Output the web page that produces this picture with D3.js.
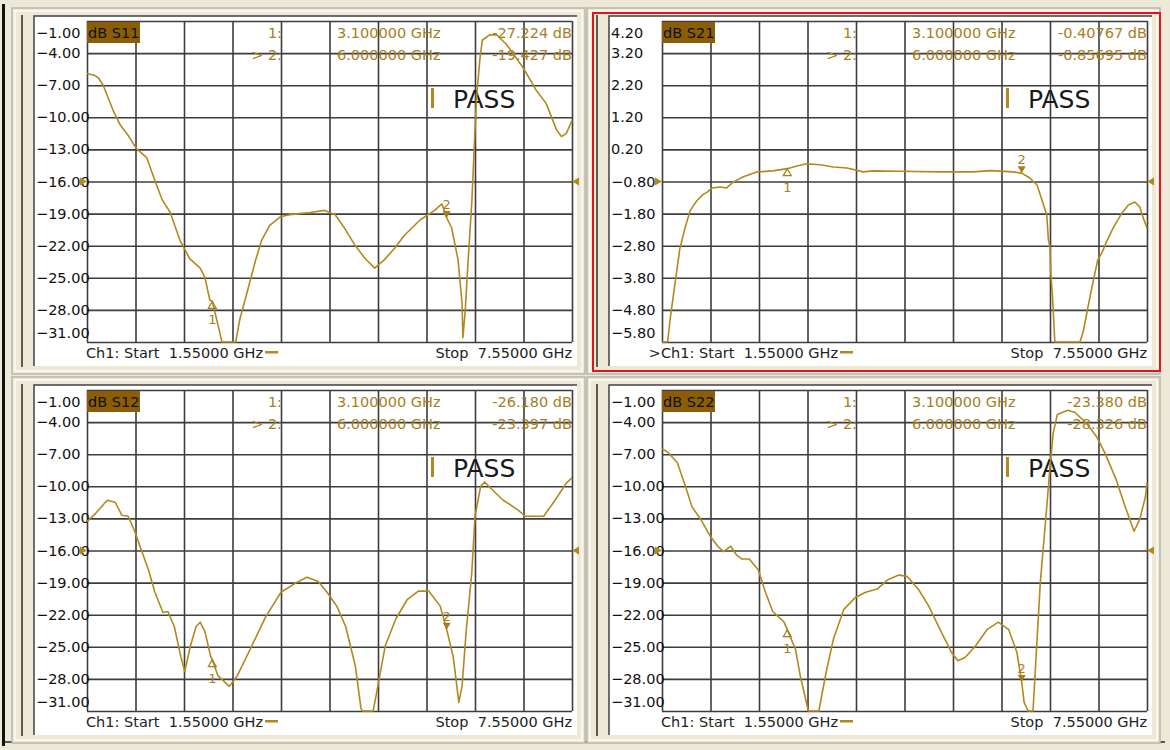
<!DOCTYPE html>
<html>
<head>
<meta charset="utf-8">
<script src="https://cdn.jsdelivr.net/npm/d3@7"></script>
<style>
  body { margin: 0; background: #ece9d8; }
  svg text { font-family: "DejaVu Sans", sans-serif; white-space: pre; }
</style>
</head>
<body>
<div id="vna"></div>
<script>
// sweep settings
const freqStart = 1.55, freqStop = 7.55;
const markerFreqs = [3.1, 6.0];
const markerFreqLabels = ["3.100000 GHz", "6.000000 GHz"];

// scale labels (top to bottom)
const dbTicks = [-1, -4, -7, -10, -13, -16, -19, -22, -25, -28, -31];
const s21Ticks = [4.2, 3.2, 2.2, 1.2, 0.2, -0.8, -1.8, -2.8, -3.8, -4.8, -5.8];

// traces (GHz / dB)
const s11Freq = [1.55, 1.65, 1.69, 1.75, 1.87, 1.96, 2.06, 2.16, 2.29, 2.39,
  2.48, 2.58, 2.70, 2.82, 2.95, 3.01, 3.07, 3.10, 3.17, 3.22,
  3.39, 3.44, 3.54, 3.63, 3.71, 3.81, 3.94, 4.06, 4.18, 4.31,
  4.49, 4.62, 4.74, 4.86, 4.99, 5.11, 5.23, 5.36, 5.48, 5.67,
  5.85, 5.94, 6.00, 6.06, 6.14, 6.19, 6.20, 6.23, 6.26, 6.31,
  6.35, 6.37, 6.41, 6.44, 6.53, 6.62, 6.74, 6.94, 7.11, 7.23,
  7.36, 7.42, 7.48, 7.55];
const s11Db = [-5.9, -6.1, -6.3, -7.0, -9.3, -10.7, -11.7, -12.9, -13.8, -15.9,
  -17.7, -18.9, -21.5, -23.2, -24.1, -25.0, -27.1, -27.2, -29.4, -32,
  -32, -28.9, -26.1, -23.5, -21.5, -20.1, -19.3, -19.1, -19.0, -18.9,
  -18.7, -19.1, -20.4, -21.9, -23.2, -24.1, -23.3, -22.2, -21.0, -19.6,
  -18.7, -18.1, -19.4, -20.3, -23.3, -27.4, -30.6, -28.0, -24.0, -18.0,
  -11.2, -8.1, -4.6, -2.8, -2.3, -2.3, -3.2, -5.3, -7.5, -8.7,
  -11.2, -11.8, -11.5, -10.3];

const s21Freq = [1.55, 1.62, 1.65, 1.71, 1.77, 1.84, 1.90, 1.98, 2.06, 2.11,
  2.17, 2.27, 2.35, 2.43, 2.55, 2.73, 2.92, 3.10, 3.22, 3.34,
  3.51, 3.67, 3.84, 4.04, 4.16, 4.49, 4.99, 5.40, 5.61, 5.89,
  6.00, 6.10, 6.19, 6.25, 6.31, 6.33, 6.35, 6.36, 6.38, 6.41,
  6.72, 6.76, 6.82, 6.88, 6.94, 6.99, 7.06, 7.13, 7.24, 7.32,
  7.40, 7.46, 7.50, 7.55];
const s21Db = [-7.0, -6.2, -5.1, -4.0, -2.9, -2.2, -1.7, -1.4, -1.2, -1.13,
  -1.0, -0.97, -1.0, -0.82, -0.66, -0.50, -0.47, -0.40, -0.32, -0.25,
  -0.28, -0.35, -0.38, -0.50, -0.47, -0.48, -0.50, -0.50, -0.46, -0.50,
  -0.54, -0.69, -0.91, -1.38, -1.84, -2.62, -2.84, -3.65, -4.34, -6.2,
  -6.2, -5.49, -4.71, -3.96, -3.25, -3.03, -2.62, -2.25, -1.78, -1.53,
  -1.44, -1.59, -1.91, -2.25];

const s12Freq = [1.55, 1.66, 1.80, 1.90, 1.98, 2.06, 2.14, 2.22, 2.31, 2.39,
  2.49, 2.55, 2.63, 2.71, 2.76, 2.83, 2.90, 2.95, 3.01, 3.08,
  3.10, 3.17, 3.31, 3.41, 3.59, 3.76, 3.95, 4.14, 4.27, 4.41,
  4.52, 4.64, 4.75, 4.87, 4.94, 4.96, 5.09, 5.14, 5.24, 5.37,
  5.51, 5.65, 5.78, 5.92, 6.00, 6.08, 6.15, 6.19, 6.24, 6.31,
  6.35, 6.42, 6.47, 6.56, 6.70, 6.88, 6.97, 7.20, 7.34, 7.48,
  7.55];
const s12Db = [-13.3, -12.5, -11.3, -11.5, -12.7, -12.8, -14.2, -15.9, -17.8, -19.9,
  -21.8, -21.7, -23.1, -25.9, -27.3, -24.9, -23.1, -22.7, -23.6, -25.9,
  -26.2, -27.7, -28.7, -27.7, -24.9, -22.2, -19.9, -19.0, -18.5, -18.9,
  -19.9, -21.2, -23.1, -26.8, -30.8, -32, -32, -29.0, -24.9, -22.4,
  -20.6, -19.8, -19.8, -21.2, -23.4, -25.9, -30.2, -28.7, -23.6, -18.1,
  -12.8, -10.0, -9.6, -10.3, -11.3, -12.2, -12.8, -12.8, -11.3, -9.7,
  -9.2];

const s22Freq = [1.55, 1.62, 1.74, 1.84, 1.92, 2.03, 2.15, 2.24, 2.31, 2.40,
  2.47, 2.54, 2.63, 2.74, 2.83, 2.92, 3.06, 3.10, 3.20, 3.26,
  3.36, 3.49, 3.58, 3.67, 3.80, 3.94, 4.07, 4.21, 4.35, 4.48,
  4.58, 4.72, 4.85, 4.99, 5.13, 5.21, 5.30, 5.43, 5.57, 5.71,
  5.84, 5.94, 6.00, 6.03, 6.08, 6.14, 6.16, 6.23, 6.30, 6.35,
  6.39, 6.44, 6.57, 6.66, 6.80, 6.93, 7.03, 7.17, 7.28, 7.39,
  7.46, 7.53, 7.55];
const s22Db = [-6.5, -6.8, -7.8, -10.0, -11.9, -13.1, -14.7, -15.6, -16.1, -15.6,
  -16.4, -16.8, -16.8, -17.8, -19.9, -21.7, -22.7, -23.4, -25.2, -27.7,
  -32, -32, -27.4, -24.3, -21.5, -20.4, -19.9, -19.6, -18.7, -18.3,
  -18.4, -19.6, -21.2, -23.4, -25.5, -26.3, -26.0, -24.9, -23.4, -22.7,
  -23.4, -25.5, -28.3, -30.2, -32, -32, -28.3, -19.0, -12.8, -8.2,
  -5.0, -3.3, -2.9, -3.1, -4.1, -5.4, -6.9, -9.4, -11.9, -14.2,
  -13.1, -11.0, -9.7];

// marker readouts
const s11Readout = ["-27.224 dB", "-19.427 dB"];
const s21Readout = ["-0.40767 dB", "-0.85695 dB"];
const s12Readout = ["-26.180 dB", "-23.397 dB"];
const s22Readout = ["-23.380 dB", "-28.326 dB"];

const panels = [
  { name: "dB S11", freq: s11Freq, db: s11Db, ticks: dbTicks, ref: -16, readout: s11Readout, ox: 34, oy: 16, active: false },
  { name: "dB S21", freq: s21Freq, db: s21Db, ticks: s21Ticks, ref: -0.8, readout: s21Readout, ox: 609, oy: 16, active: true },
  { name: "dB S12", freq: s12Freq, db: s12Db, ticks: dbTicks, ref: -16, readout: s12Readout, ox: 34, oy: 385, active: false },
  { name: "dB S22", freq: s22Freq, db: s22Db, ticks: dbTicks, ref: -16, readout: s22Readout, ox: 609, oy: 385, active: false }
];

const W = 1170, H = 750;
const panelW = 543, panelH = 350;
const gold = "#b3891f", goldText = "#a67e1c", gridCol = "#3d3d3d";

const svg = d3.select("#vna").append("svg")
    .attr("width", W)
    .attr("height", H)
    .attr("viewBox", `0 0 ${W} ${H}`);

svg.append("rect").attr("width", W).attr("height", H).attr("fill", "#ece9d8");
// left window edge
svg.append("rect").attr("x", 2).attr("y", 4).attr("width", 3).attr("height", 742).attr("fill", "#111");
// bottom window edge
svg.append("rect").attr("x", 5).attr("y", 741).attr("width", 1160).attr("height", 2).attr("fill", "#555");

function valueAt(freqs, dbs, f) {
  const i = d3.bisectLeft(freqs, f);
  if (freqs[i] === f) return dbs[i];
  const t = (f - freqs[i - 1]) / (freqs[i] - freqs[i - 1]);
  return dbs[i - 1] + t * (dbs[i] - dbs[i - 1]);
}

panels.forEach(p => {
  const g = svg.append("g");
  const ox = p.ox, oy = p.oy;

  // window frame
  g.append("rect")
    .attr("x", ox - 22).attr("y", oy - 8)
    .attr("width", panelW + 30).attr("height", panelH + 16)
    .attr("fill", "#ece9d8").attr("stroke", "#b9b6a8").attr("stroke-width", 1.5);
  g.append("rect")
    .attr("x", ox - 19).attr("y", oy - 5)
    .attr("width", panelW + 24).attr("height", panelH + 10)
    .attr("fill", "none").attr("stroke", "#fbfaf5").attr("stroke-width", 1.5);
  g.append("line")
    .attr("x1", ox - 12).attr("x2", ox - 12)
    .attr("y1", oy - 1).attr("y2", oy + panelH + 1)
    .attr("stroke", "#5d5b52").attr("stroke-width", 2);
  g.append("rect")
    .attr("x", ox).attr("y", oy)
    .attr("width", panelW).attr("height", panelH)
    .attr("fill", "#fff");
  g.append("path")
    .attr("d", `M${ox},${oy + panelH}V${oy}H${ox + panelW}`)
    .attr("fill", "none").attr("stroke", "#404040").attr("stroke-width", 1.5);

  if (p.active) {
    g.append("rect")
      .attr("x", ox - 16).attr("y", oy - 3)
      .attr("width", panelW + 24).attr("height", panelH + 8)
      .attr("fill", "none").attr("stroke", "#e4141b").attr("stroke-width", 2);
  }

  const gx = ox + 53, gy = oy + 5, gw = 485, gh = 321;
  const x = d3.scaleLinear().domain([freqStart, freqStop]).range([gx, gx + gw]);
  const y = d3.scaleLinear()
    .domain([p.ticks[p.ticks.length - 1], p.ticks[0]])
    .range([gy + gh, gy])
    .clamp(true);

  // graticule
  const step = (freqStop - freqStart) / 10;
  g.append("g")
    .attr("transform", `translate(0,${gy + gh})`)
    .call(d3.axisBottom(x).tickValues(d3.range(11).map(i => freqStart + i * step)).tickSize(gh).tickSizeOuter(0).tickFormat(""))
    .call(a => a.select(".domain").remove())
    .call(a => a.selectAll("line").attr("y2", -gh).attr("stroke", gridCol).attr("stroke-width", 1.6));
  g.append("g")
    .attr("transform", `translate(${gx},0)`)
    .call(d3.axisLeft(y).tickValues(p.ticks).tickSize(-gw).tickFormat(""))
    .call(a => a.select(".domain").remove())
    .call(a => a.selectAll("line").attr("stroke", gridCol).attr("stroke-width", 1.6));

  // scale labels
  const fmt = d3.format(".2f");
  g.selectAll(".ylab")
    .data(p.ticks)
    .join("text")
      .attr("x", ox + 2)
      .attr("y", d => Math.max(gy + 17, Math.min(gy + gh - 4, y(d) + 5)))
      .attr("font-size", 14.5)
      .attr("fill", "#111")
      .text(d => fmt(d));

  // trace name box
  g.append("rect")
    .attr("x", gx).attr("y", gy + 1)
    .attr("width", 53).attr("height", 21)
    .attr("fill", "#8c5d07");
  g.append("text")
    .attr("x", gx + 1).attr("y", gy + 17)
    .attr("font-size", 14.5).attr("fill", "#111")
    .text(p.name);

  // marker table
  markerFreqs.forEach((f, i) => {
    const ty = gy + 17 + i * 22;
    g.append("text").attr("x", ox + 248).attr("y", ty).attr("text-anchor", "end")
      .attr("font-size", 14.5).attr("fill", goldText)
      .text(i === 1 ? "> 2:" : "1:");
    g.append("text").attr("x", ox + 303).attr("y", ty)
      .attr("font-size", 14.5).attr("fill", goldText)
      .text(markerFreqLabels[i]);
    g.append("text").attr("x", gx + gw).attr("y", ty).attr("text-anchor", "end")
      .attr("font-size", 14.5).attr("fill", goldText)
      .text(p.readout[i]);
  });

  // limit test status
  g.append("rect")
    .attr("x", gx + 344).attr("y", gy + 67)
    .attr("width", 3).attr("height", 20)
    .attr("fill", gold);
  g.append("text")
    .attr("x", gx + 366).attr("y", gy + 87)
    .attr("font-family", "'Liberation Sans', Arial, sans-serif")
    .attr("font-size", 25).attr("fill", "#1a1a1a")
    .text("PASS");

  // trace
  const line = d3.line().x(d => x(d[0])).y(d => y(d[1]));
  g.append("path")
    .datum(d3.zip(p.freq, p.db))
    .attr("d", line)
    .attr("fill", "none")
    .attr("stroke", gold)
    .attr("stroke-width", 1.6)
    .attr("stroke-linejoin", "round");

  // reference level arrows
  const ry = y(p.ref);
  g.append("path")
    .attr("d", `M${gx - 7},${ry - 4}L${gx},${ry}L${gx - 7},${ry + 4}Z`)
    .attr("fill", gold);
  g.append("path")
    .attr("d", `M${gx + gw + 7},${ry - 4}L${gx + gw},${ry}L${gx + gw + 7},${ry + 4}Z`)
    .attr("fill", gold);

  // markers
  markerFreqs.forEach((f, i) => {
    const mx = x(f), my = y(valueAt(p.freq, p.db, f));
    if (i === 0) {
      g.append("path")
        .attr("d", `M${mx},${my}L${mx - 4},${my + 7}L${mx + 4},${my + 7}Z`)
        .attr("fill", "none").attr("stroke", goldText).attr("stroke-width", 1.2);
      g.append("text").attr("x", mx).attr("y", my + 23).attr("text-anchor", "middle")
        .attr("font-size", 13).attr("fill", goldText).text("1");
    } else {
      g.append("path")
        .attr("d", `M${mx},${my}L${mx - 4},${my - 7}L${mx + 4},${my - 7}Z`)
        .attr("fill", goldText);
      g.append("text").attr("x", mx).attr("y", my - 9).attr("text-anchor", "middle")
        .attr("font-size", 13).attr("fill", goldText).text("2");
    }
  });

  // sweep range
  g.append("text")
    .attr("x", ox + 229).attr("y", gy + gh + 16)
    .attr("text-anchor", "end")
    .attr("font-size", 14.5).attr("fill", "#222")
    .text((p.active ? ">" : "") + "Ch1: Start  1.55000 GHz");
  g.append("rect")
    .attr("x", ox + 231).attr("y", gy + gh + 9)
    .attr("width", 13).attr("height", 2.5)
    .attr("fill", gold);
  g.append("text")
    .attr("x", gx + gw).attr("y", gy + gh + 16)
    .attr("text-anchor", "end")
    .attr("font-size", 14.5).attr("fill", "#222")
    .text("Stop  7.55000 GHz");
});
</script>
</body>
</html>
